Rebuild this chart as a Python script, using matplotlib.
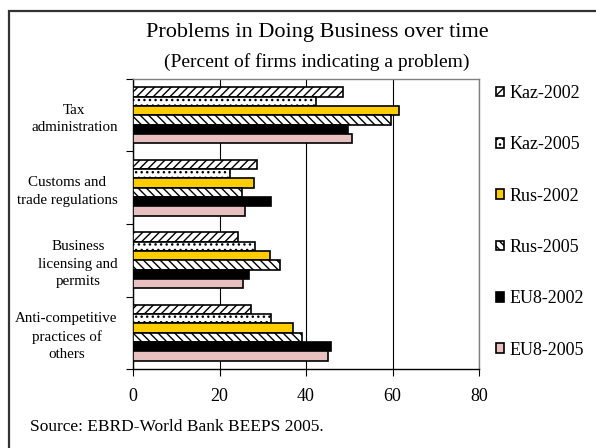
import matplotlib.pyplot as plt
import numpy as np
from matplotlib.patches import Rectangle

plt.rcParams['font.family'] = ['Liberation Serif', 'DejaVu Serif']
plt.rcParams['hatch.linewidth'] = 1.0

categories = ["Tax\nadministration", "Customs and\ntrade regulations",
              "Business\nlicensing and\npermits", "Anti-competitive\npractices of\nothers"]
series = ["Kaz-2002", "Kaz-2005", "Rus-2002", "Rus-2005", "EU8-2002", "EU8-2005"]

# percent of firms, one list per series, in category order
kaz_2002 = [48.5, 28.6, 24.3, 27.2]
kaz_2005 = [42.2, 22.4, 28.3, 31.8]
rus_2002 = [61.4, 27.9, 31.7, 36.9]
rus_2005 = [59.6, 25.3, 34.0, 39.1]
eu8_2002 = [49.8, 32.0, 26.8, 45.8]
eu8_2005 = [50.6, 26.0, 25.4, 45.2]
values = [kaz_2002, kaz_2005, rus_2002, rus_2005, eu8_2002, eu8_2005]

colors = ["white", "white", "#FFCC00", "white", "black", "#E8C0C0"]
hatches = ["////", "...", None, "\\\\\\\\", None, None]

fig = plt.figure(figsize=(5.96, 4.48), dpi=100)
ax = fig.add_axes([133/596, 1-369/448, 346/596, 290/448])

ypos = np.arange(len(categories))[::-1]  # first category on top
h = 0.129
for i, s in enumerate(series):
    off = (2.5 - i) * h
    ax.barh(ypos + off, values[i], height=h, color=colors[i], hatch=hatches[i],
            edgecolor="black", linewidth=1.2, label=s, zorder=3)

ax.set_xlim(0, 80)
ax.set_ylim(-0.5, 3.5)
ax.set_xticks([0, 20, 40, 60, 80])
ax.tick_params(axis="x", direction="out", length=5, width=0.8, labelsize=13, pad=9)
ax.xaxis.grid(True, color="black", linewidth=0.8, zorder=0)

# category labels at group centres, tick marks between groups
ax.set_yticks(ypos)
ax.set_yticklabels(categories, fontsize=10.8, multialignment="center", linespacing=1.45)
ax.tick_params(axis="y", which="major", length=0, pad=11)
ax.set_yticks(np.arange(-0.5, 4.0, 1.0), minor=True)
ax.tick_params(axis="y", which="minor", direction="out", length=5, width=0.8)

for side in ["top", "right"]:
    ax.spines[side].set_color("#808080")
    ax.spines[side].set_linewidth(1.0)
for side in ["left", "bottom"]:
    ax.spines[side].set_color("black")
    ax.spines[side].set_linewidth(1.0)

fig.text(317/596, 1-33/448, "Problems in Doing Business over time",
         ha="center", va="center", fontsize=16)
fig.text(317/596, 1-62/448, "(Percent of firms indicating a problem)",
         ha="center", va="center", fontsize=14)
fig.text(30/596, 1-427/448, "Source: EBRD-World Bank BEEPS 2005.",
         ha="left", va="center", fontsize=12.5)

leg = fig.legend(loc="upper left", bbox_to_anchor=(496/596, 1-85/448), frameon=False,
                 fontsize=13, handlelength=0.45, handleheight=0.45, handletextpad=0.3,
                 labelspacing=1.9, borderpad=0, borderaxespad=0)

# outer chart border
fig.patches.append(Rectangle((9/596, -0.05), 1.0, 1.05 - 11/448, transform=fig.transFigure,
                             fill=False, edgecolor="#333333", linewidth=1.6))

fig.savefig("out.png", dpi=100)
